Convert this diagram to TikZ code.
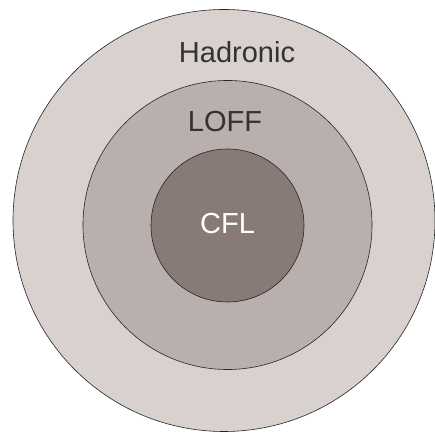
\documentclass[tikz,border=0pt]{standalone}
\usepackage{fontspec}
\setmainfont{Liberation Sans}
\begin{document}
\begin{tikzpicture}[x=1pt,y=1pt,
  ring/.style={circle, draw=black!85, line width=0.6pt, inner sep=0pt},
  lbl/.style={inner sep=0pt, font=\fontsize{29}{34}\selectfont}]
\useasboundingbox (0,0) rectangle (435,441);
\fill[white] (0,0) rectangle (435,441);
\definecolor{outerc}{HTML}{D8D1CD}
\definecolor{midc}{HTML}{B9AFAC}
\definecolor{innerc}{HTML}{877A77}
\definecolor{txtc}{HTML}{333333}
\node[ring, fill=outerc, minimum size=422pt] (outer) at (224,220.5) {};
\node[ring, fill=midc, minimum size=289pt] (mid) at (227.5,216) {};
\node[ring, fill=innerc, minimum size=153pt] (inner) at (227.5,215.5) {};
\node[lbl, text=txtc] (had) at (237,389) {Hadronic};
\node[lbl, text=txtc] (loff) at (225,319) {LOFF};
\node[lbl, text=white] (cfl) at (227.5,217) {CFL};
\end{tikzpicture}
\end{document}
